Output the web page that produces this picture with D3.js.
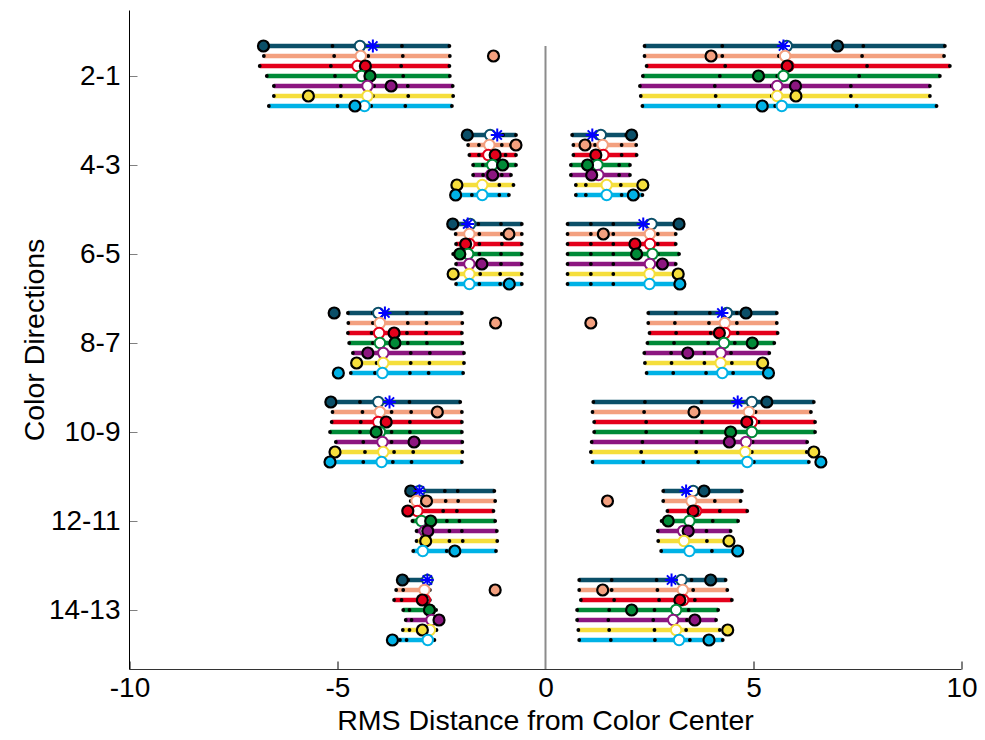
<!DOCTYPE html>
<html><head><meta charset="utf-8">
<script src="https://cdn.jsdelivr.net/npm/d3@7"></script>
<style>
html,body{margin:0;padding:0;background:#fff;}
svg{display:block;font-family:"Liberation Sans",Arial,Helvetica,sans-serif;}
</style></head><body>
<svg id="chart" width="985" height="740"></svg>
<script>
const categories = ["2-1","4-3","6-5","8-7","10-9","12-11","14-13"];
const seriesColors = ["#0b4f68","#f3a07f","#e4001b","#008a37","#8c1680","#f5de3c","#00b2e6"];
const xTicks = [-10,-5,0,5,10];
const xLabel = "RMS Distance from Color Center";
const yLabel = "Color Directions";

// black dots along each line, [group][series]
const negDots = [
  [[-6.78,-5.12,-4.35,-3.45,-2.31],[-6.77,-5.08,-4.26,-3.43,-2.30],[-6.87,-5.16,-4.34,-3.47,-2.31],[-6.70,-5.06,-4.24,-3.42,-2.30],[-6.53,-4.92,-4.12,-3.31,-2.23],[-6.53,-4.92,-4.15,-3.30,-2.22],[-6.65,-5.00,-4.19,-3.37,-2.25]],
  [[-1.88,-1.80,-1.33,-1.02,-0.71],[-1.86,-1.60,-1.35,-1.05,-0.83],[-1.83,-1.60,-1.33,-0.96,-0.71],[-1.74,-1.51,-1.24,-1.02,-0.71],[-1.74,-1.50,-1.29,-1.05,-0.83],[-2.13,-2.03,-1.48,-1.11,-0.77],[-2.16,-1.77,-1.48,-1.11,-0.88]],
  [[-2.23,-1.87,-1.615,-1.07,-0.57],[-2.16,-1.83,-1.59,-1.05,-0.57],[-2.15,-1.92,-1.59,-1.05,-0.57],[-2.22,-1.86,-1.59,-1.07,-0.57],[-2.15,-1.83,-1.55,-1.07,-0.57],[-2.22,-1.83,-1.57,-1.09,-0.57],[-2.15,-1.83,-1.59,-1.09,-0.57]],
  [[-4.75,-4.15,-3.33,-2.87,-2.01],[-4.74,-4.15,-3.31,-2.86,-2.00],[-4.75,-4.18,-3.33,-2.87,-2.01],[-4.72,-4.15,-3.31,-2.85,-2.00],[-4.63,-4.20,-3.24,-2.78,-1.96],[-4.55,-4.06,-3.24,-2.79,-1.96],[-4.68,-4.10,-3.26,-2.81,-1.98]],
  [[-5.16,-4.46,-3.75,-3.27,-2.05],[-5.12,-4.40,-3.70,-3.23,-2.01],[-5.14,-4.44,-3.80,-3.26,-2.01],[-5.18,-4.46,-3.70,-3.26,-2.01],[-5.04,-4.38,-3.70,-3.16,-2.00],[-5.06,-4.34,-3.64,-3.18,-2.00],[-5.18,-4.38,-3.67,-3.22,-2.01]],
  [[-3.24,-2.95,-2.42,-2.11,-1.23],[-3.24,-2.86,-2.40,-2.10,-1.21],[-3.31,-3.08,-2.46,-2.13,-1.25],[-3.20,-2.98,-2.37,-2.07,-1.21],[-3.10,-2.90,-2.31,-2.01,-1.17],[-3.10,-2.90,-2.31,-1.99,-1.16],[-3.18,-2.95,-2.375,-2.09,-1.19]],
  [[-3.44,-3.30,-2.84,-2.78],[-3.59,-3.42,-2.91,-2.78],[-3.64,-3.46,-2.96,-2.78],[-3.42,-3.27,-2.79,-2.63],[-3.36,-3.22,-2.74,-2.56],[-3.43,-3.27,-2.96,-2.62],[-3.68,-3.50,-3.34,-2.67]]
];
const posDots = [
  [[2.38,4.25,5.80,7.64,9.60],[2.38,4.25,5.61,7.61,9.58],[2.43,4.32,5.80,7.73,9.72],[2.34,4.19,5.57,7.54,9.48],[2.27,4.07,5.44,7.34,9.24],[2.29,4.09,5.44,7.34,9.24],[2.33,4.17,5.52,7.48,9.40]],
  [[0.64,1.12,1.33,1.94,2.07],[0.67,0.88,1.19,1.375,1.83,2.18],[0.67,1.15,1.39,1.83,2.19],[0.61,1.00,1.25,1.77,2.03],[0.61,1.10,1.27,1.77,2.03],[0.73,0.97,1.47,1.81,2.27],[0.73,0.97,1.47,1.83,2.33]],
  [[0.53,1.09,1.63,2.40,3.21],[0.53,1.09,1.63,2.70,3.13],[0.53,1.09,1.63,2.70,3.13],[0.53,1.09,1.63,2.70,3.21],[0.53,1.09,1.63,2.70,3.13],[0.53,1.09,1.63,2.55,3.15],[0.53,1.09,1.63,2.55,3.20]],
  [[2.47,3.13,3.95,4.60,5.56],[2.47,3.11,3.93,4.60,5.56],[2.50,3.14,3.97,4.62,5.58],[2.45,3.09,3.91,4.55,5.50],[2.375,3.02,3.82,4.46,5.38],[2.39,3.03,3.82,4.48,5.32],[2.43,3.07,3.86,4.51,5.36]],
  [[1.15,2.39,3.75,4.95,6.45],[1.13,2.37,3.62,5.05,6.38],[1.17,2.42,3.77,5.12,6.48],[1.17,2.42,3.75,5.00,6.48],[1.11,2.33,3.63,4.98,6.29],[1.09,2.30,3.62,4.96,6.28],[1.13,2.35,3.67,5.01,6.33]],
  [[2.83,3.38,3.81,4.72],[2.83,3.42,3.51,4.07,4.69],[2.93,3.55,3.62,4.19,4.85],[2.79,2.95,3.46,4.02,4.63],[2.70,3.31,3.43,3.87,4.45],[2.71,3.33,3.88,4.41],[2.78,3.46,4.00,4.62]],
  [[0.81,1.59,2.67,3.51,4.33],[0.81,1.59,2.69,3.55,4.37],[0.85,1.65,2.73,3.59,4.48],[0.76,1.53,2.62,3.44,4.15],[0.76,1.51,2.59,3.40,4.10],[0.79,1.53,2.62,3.38,4.19],[0.81,1.57,2.63,3.47,4.26]]
];
// open (white) circles, [group][series]
const negMean = [
  [-4.46,-4.44,-4.52,-4.42,-4.28,-4.28,-4.35],
  [-1.33,-1.35,-1.375,-1.28,-1.31,-1.52,-1.52],
  [-1.81,-1.83,-1.83,-1.86,-1.83,-1.83,-1.83],
  [-4.02,-3.98,-4.00,-3.98,-3.90,-3.90,-3.92],
  [-4.02,-3.98,-4.02,-3.98,-3.92,-3.90,-3.94],
  [-3.03,-3.10,-3.08,-2.98,-2.90,-2.90,-2.95],
  [-2.84,-2.91,-2.90,-2.78,-2.74,-2.78,-2.83]
];
const posMean = [
  [5.80,5.76,5.84,5.72,5.57,5.57,5.68],
  [1.33,1.375,1.39,1.25,1.27,1.47,1.47],
  [2.55,2.51,2.51,2.57,2.51,2.50,2.50],
  [4.36,4.31,4.31,4.29,4.21,4.21,4.25],
  [4.96,4.89,4.96,4.96,4.82,4.80,4.85],
  [3.55,3.51,3.62,3.46,3.31,3.33,3.46],
  [3.27,3.30,3.31,3.14,3.07,3.14,3.21]
];
// filled circles, [group][series]
const negMarker = [
  [-6.78,-1.25,-4.33,-4.22,-3.71,-5.70,-4.58],
  [-1.88,-0.71,-1.21,-1.03,-1.27,-2.13,-2.16],
  [-2.23,-0.88,-1.92,-2.06,-1.53,-2.22,-0.87],
  [-5.08,-1.20,-3.64,-3.62,-4.27,-4.54,-4.98],
  [-5.16,-2.60,-3.83,-4.07,-3.16,-5.06,-5.18],
  [-3.24,-2.86,-3.31,-2.76,-2.83,-2.88,-2.18],
  [-3.44,-1.21,-2.96,-2.79,-2.56,-2.96,-3.68]
];
const posMarker = [
  [7.02,3.98,5.81,5.12,6.01,6.02,5.21],
  [2.07,0.95,1.21,1.01,1.11,2.34,2.11],
  [3.21,1.39,2.15,2.19,2.81,3.19,3.23],
  [4.82,1.09,4.18,4.97,3.42,5.22,5.36],
  [5.32,3.57,4.84,4.45,4.42,6.45,6.62],
  [3.81,1.49,3.55,2.95,3.43,4.41,4.62],
  [3.97,1.375,3.23,2.07,3.59,4.38,3.93]
];
// blue asterisks (first series of each group)
const negStar = [-4.15,-1.16,-1.87,-3.86,-3.75,-3.03,-2.84];
const posStar = [5.72,1.125,2.35,4.24,4.62,3.38,3.03];

const plot = {left:129.5, right:961.5, top:10.5, bottom:669.5};
const x = d3.scaleLinear().domain([-10,10]).range([plot.left, plot.right]);
const y = d3.scalePoint().domain(categories).range([76,610]);
const row = d3.scalePoint().domain(d3.range(seriesColors.length)).range([-30,30]);
const TICK_FONT = 28;
const TITLE_FONT = 28.5;

const svg = d3.select("#chart");

// zero line
svg.append("line")
  .attr("x1", x(0)).attr("x2", x(0))
  .attr("y1", y(categories[0]) + row(0)).attr("y2", plot.bottom)
  .attr("stroke", "#8c8c8c").attr("stroke-width", 2);

// axes
const xAxis = d3.axisBottom(x).tickValues(xTicks).tickSize(-8).tickPadding(8).tickFormat(d3.format("d"));
const gx = svg.append("g").attr("transform", `translate(0,${plot.bottom})`).call(xAxis);
gx.select(".domain").remove();
gx.selectAll(".tick line").attr("stroke", "#000");
gx.selectAll(".tick text").attr("font-size", TICK_FONT).attr("fill", "#000")
  .attr("font-family", '"Liberation Sans",Arial,sans-serif').text(d => d < 0 ? "-" + Math.abs(d) : d);
gx.selectAll(".tick").filter(d => d === 0).select("line").remove();

const yAxis = d3.axisLeft(y).tickSize(-8).tickPadding(9);
const gy = svg.append("g").attr("transform", `translate(${plot.left},0)`).call(yAxis);
gy.select(".domain").remove();
gy.selectAll(".tick line").attr("stroke", "#808080");
gy.selectAll(".tick text").attr("font-size", TICK_FONT).attr("fill", "#000")
  .attr("font-family", '"Liberation Sans",Arial,sans-serif');

svg.append("line").attr("x1", plot.left).attr("x2", plot.left)
  .attr("y1", plot.top).attr("y2", plot.bottom).attr("stroke", "#000").attr("stroke-width", 1);
svg.append("line").attr("x1", plot.left).attr("x2", plot.right)
  .attr("y1", plot.bottom).attr("y2", plot.bottom).attr("stroke", "#333").attr("stroke-width", 1);

// titles
svg.append("text").attr("x", (plot.left + plot.right) / 2).attr("y", 730)
  .attr("text-anchor", "middle").attr("font-size", TITLE_FONT).text(xLabel);
svg.append("text").attr("transform", `translate(44,${(plot.top + plot.bottom) / 2}) rotate(-90)`)
  .attr("text-anchor", "middle").attr("font-size", TITLE_FONT).text(yLabel);

// marks
const marks = svg.append("g");
const starPath = (r) => {
  const d = r * Math.SQRT1_2;
  return `M${-r},0H${r}M0,${-r}V${r}M${-d},${-d}L${d},${d}M${-d},${d}L${d},${-d}`;
};
const sides = [
  {dots: negDots, mean: negMean, marker: negMarker, star: negStar},
  {dots: posDots, mean: posMean, marker: posMarker, star: posStar}
];

categories.forEach((cat, g) => {
  seriesColors.forEach((col, s) => {
    const yy = y(cat) + row(s);
    sides.forEach(side => {
      const dts = side.dots[g][s];
      const ext = d3.extent(dts);
      const gg = marks.append("g");
      gg.append("line").attr("x1", x(ext[0])).attr("x2", x(ext[1]))
        .attr("y1", yy).attr("y2", yy).attr("stroke", col).attr("stroke-width", 4.5);
      gg.selectAll("circle.dot").data(dts).join("circle").attr("class", "dot")
        .attr("cx", d => x(d)).attr("cy", yy).attr("r", 1.9).attr("fill", "#000");
      gg.append("circle").attr("cx", x(side.mean[g][s])).attr("cy", yy).attr("r", 5.2)
        .attr("fill", "#fff").attr("stroke", col).attr("stroke-width", 2);
      gg.append("circle").attr("cx", x(side.marker[g][s])).attr("cy", yy).attr("r", 5.5)
        .attr("fill", col).attr("stroke", "#000").attr("stroke-width", 2.2);
      if (s === 0) {
        gg.append("path").attr("d", starPath(6.5))
          .attr("transform", `translate(${x(side.star[g])},${yy})`)
          .attr("stroke", "#0000ff").attr("stroke-width", 2).attr("fill", "none");
      }
    });
  });
});
</script>
</body></html>
